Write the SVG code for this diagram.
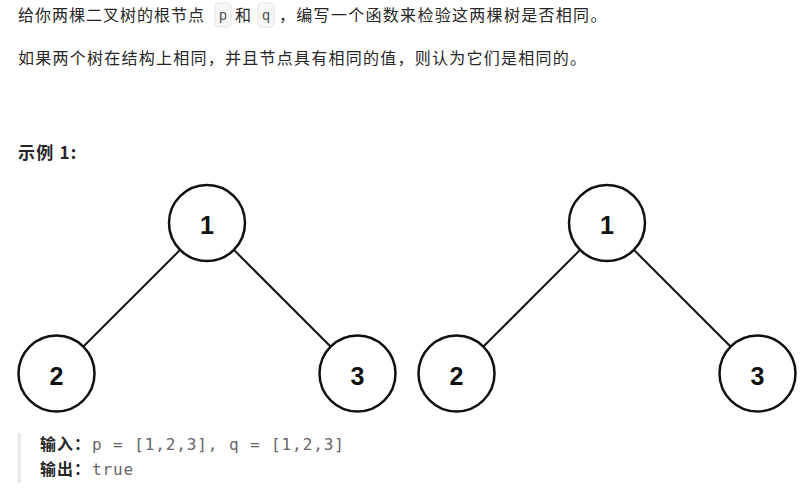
<svg xmlns="http://www.w3.org/2000/svg" width="811" height="492" viewBox="0 0 811 492">
<style>
.t{font-family:"Noto Sans CJK SC","Noto Sans",sans-serif;font-size:16px;fill:#262626;letter-spacing:1px}
.b{font-weight:bold}
.code{font-family:"DejaVu Sans Mono",monospace;font-size:14px;fill:#555}
.out{font-family:"DejaVu Sans Mono",monospace;font-size:16px;fill:#666;letter-spacing:0.9px}
.box{fill:#f7f7f8;stroke:#e3e3e6;stroke-width:1}
.node circle{fill:#fff;stroke:#111;stroke-width:2.5}
.node text{font-family:"Liberation Sans",Arial,sans-serif;font-weight:bold;font-size:25px;fill:#111;text-anchor:middle}
.edges line{stroke:#111;stroke-width:2}
</style>
<rect width="811" height="492" fill="#fff"/>
<g id="text">
<text class="t" x="18" y="21">给你两棵二叉树的根节点</text>
<rect class="box" x="215" y="3" width="16" height="24" rx="4"/>
<text class="code" x="223" y="20" text-anchor="middle">p</text>
<text class="t" x="235" y="21">和</text>
<rect class="box" x="258" y="3" width="16" height="24" rx="4"/>
<text class="code" x="266" y="20" text-anchor="middle">q</text>
<text class="t" x="279" y="21" style="letter-spacing:1.3px">，编写一个函数来检验这两棵树是否相同。</text>
<text class="t" x="18" y="64" style="letter-spacing:1.25px">如果两个树在结构上相同，并且节点具有相同的值，则认为它们是相同的。</text>
<text class="t b" x="18" y="159" style="letter-spacing:1.2px;font-size:17px">示例 1:</text>
</g>
<g id="connectors" class="edges">
<line x1="180.1" y1="249.9" x2="83.7" y2="346.3"/>
<line x1="233.9" y1="249.9" x2="330.3" y2="346.3"/>
<line x1="580.1" y1="249.9" x2="483.7" y2="346.3"/>
<line x1="633.9" y1="249.9" x2="730.3" y2="346.3"/>
</g>
<g id="p1" class="node"><circle cx="207" cy="223" r="38"/><text x="207" y="234">1</text></g>
<g id="p2" class="node"><circle cx="56.5" cy="373.5" r="38"/><text x="56.5" y="385">2</text></g>
<g id="p3" class="node"><circle cx="357.5" cy="373.5" r="38"/><text x="357.5" y="385">3</text></g>
<g id="q1" class="node"><circle cx="607" cy="223" r="38"/><text x="607" y="234">1</text></g>
<g id="q2" class="node"><circle cx="456.5" cy="373.5" r="38"/><text x="456.5" y="385">2</text></g>
<g id="q3" class="node"><circle cx="757.5" cy="373.5" r="38"/><text x="757.5" y="385">3</text></g>
<g id="example">
<rect x="18" y="433" width="2.5" height="50" fill="#e6e6e6"/>
<text class="t b" x="40" y="450">输入：</text>
<text class="out" x="92" y="450">p = [1,2,3], q = [1,2,3]</text>
<text class="t b" x="40" y="475">输出：</text>
<text class="out" x="92" y="475">true</text>
</g>
</svg>
